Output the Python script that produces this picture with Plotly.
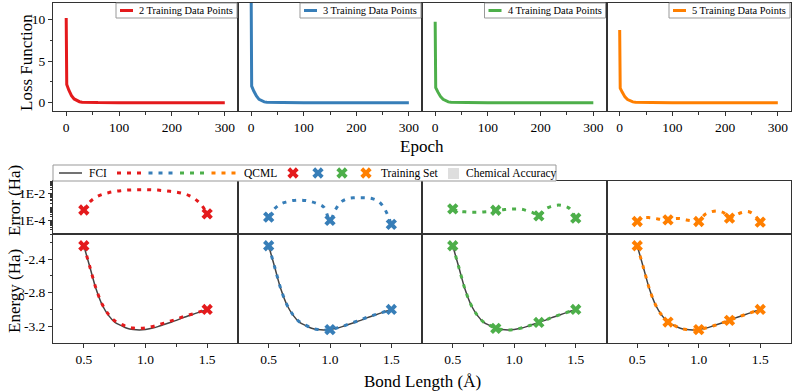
import numpy as np
import plotly.graph_objects as go

W, H = 793, 392
FONT = "Liberation Serif, Times New Roman, serif"

colors = ['#e41a1c', '#377eb8', '#4daf4a', '#ff7f00']
n_train = [2, 3, 4, 5]

# ---- loss curves (top row)
epochs = [0, 1, 5, 10, 15, 20, 25, 30, 40, 60, 100, 200, 300]
loss_2 = [10.2, 2.2, 1.5, 0.85, 0.45, 0.25, 0.12, 0.06, 0.02, 0.01, 0.0, 0.0, 0.0]
loss_3 = [13.5, 2.0, 1.4, 0.8, 0.4, 0.2, 0.1, 0.05, 0.02, 0.01, 0.0, 0.0, 0.0]
loss_4 = [9.75, 1.8, 1.3, 0.75, 0.4, 0.2, 0.1, 0.05, 0.02, 0.01, 0.0, 0.0, 0.0]
loss_5 = [8.75, 1.75, 1.25, 0.7, 0.38, 0.2, 0.1, 0.05, 0.02, 0.01, 0.0, 0.0, 0.0]
losses = [loss_2, loss_3, loss_4, loss_5]

# ---- potential energy curve (bottom rows)
bond = [0.50, 0.55, 0.60, 0.65, 0.70, 0.75, 0.80, 0.85, 0.90, 0.95, 1.00,
        1.05, 1.10, 1.15, 1.20, 1.25, 1.30, 1.35, 1.40, 1.45, 1.50]
fci_energy = [-2.24, -2.50, -2.76, -2.95, -3.07, -3.15, -3.19, -3.225, -3.24, -3.245, -3.24,
              -3.225, -3.205, -3.18, -3.155, -3.13, -3.10, -3.075, -3.05, -3.025, -3.00]

# log10 of |QCML - FCI| (Ha)
err_log_2 = [-3.21, -2.6, -2.25, -2.05, -1.92, -1.83, -1.77, -1.73, -1.71, -1.70, -1.70,
             -1.71, -1.73, -1.77, -1.82, -1.88, -1.97, -2.12, -2.38, -2.8, -3.5]
err_log_3 = [-3.74, -3.1, -2.75, -2.6, -2.5, -2.47, -2.5, -2.6, -2.75, -3.0, -3.98,
             -3.1, -2.55, -2.35, -2.3, -2.29, -2.3, -2.38, -2.6, -3.2, -4.28]
err_log_4 = [-3.13, -3.30, -3.35, -3.38, -3.38, -3.36, -3.32, -3.23, -3.2, -3.15, -3.13,
             -3.14, -3.25, -3.4, -3.65, -3.15, -2.95, -2.85, -2.9, -3.1, -3.82]
err_log_5 = [-4.07, -3.8, -3.78, -3.85, -3.92, -3.95, -3.85, -3.85, -3.95, -4.02, -4.07,
             -3.55, -3.35, -3.28, -3.4, -3.82, -3.6, -3.4, -3.33, -3.55, -4.12]
err_logs = [err_log_2, err_log_3, err_log_4, err_log_5]

train_x_2 = [0.5, 1.5]
train_x_3 = [0.5, 1.0, 1.5]
train_x_4 = [0.5, 0.85, 1.2, 1.5]
train_x_5 = [0.5, 0.75, 1.0, 1.25, 1.5]
train_xs = [train_x_2, train_x_3, train_x_4, train_x_5]

chem_acc = 1.6e-3

# ---- layout geometry (pixels)
cols = [53, 238, 422, 606.5, 791]
row_top = (3, 111)
row_err = (181, 234)
row_en = (234, 343)


def dx(c):
    return [cols[c] / W, cols[c + 1] / W]


def dy(r):
    return [1 - r[1] / H, 1 - r[0] / H]


axis_base = dict(showline=True, mirror=True, linecolor='#333', linewidth=1,
                 showgrid=False, zeroline=False, ticks='outside', ticklen=4,
                 tickwidth=1, tickcolor='#333',
                 tickfont=dict(family=FONT, size=13.5, color='black'))

fig = go.Figure()
layout = {}
bond_arr = np.array(bond)
fci_arr = np.array(fci_energy)

for c in range(4):
    color = colors[c]
    # top: loss
    n = c + 1
    layout[f'xaxis{n}'] = dict(axis_base, domain=dx(c), anchor=f'y{n}', range=[-25, 325],
                               tickvals=[0, 100, 200, 300],
                               minor=dict(tickvals=[50, 150, 250], ticks='outside', ticklen=2.5,
                                          tickcolor='#333'))
    ya = dict(axis_base, domain=dy(row_top), anchor=f'x{n}', range=[-1, 12], tickvals=[0, 5, 10])
    if c == 0:
        ya['minor'] = dict(tickvals=[2.5, 7.5], ticks='outside', ticklen=2.5, tickcolor='#333')
    else:
        ya.update(ticks='', showticklabels=False)
    layout[f'yaxis{n}'] = ya
    fig.add_trace(go.Scatter(x=epochs, y=losses[c], mode='lines', line=dict(color=color, width=3),
                             xaxis=f'x{n}', yaxis=f'y{n}', showlegend=False, hoverinfo='skip'))

    # middle: error
    n = c + 5
    layout[f'xaxis{n}'] = dict(axis_base, domain=dx(c), anchor=f'y{n}', range=[0.25, 1.75],
                               ticks='', showticklabels=False)
    ya = dict(axis_base, domain=dy(row_err), anchor=f'x{n}', type='log', range=[-5, -1.05],
              tickvals=[1e-2, 1e-4], ticktext=['1E-2', '1E-4'])
    if c == 0:
        ya['minor'] = dict(dtick='D1', ticks='outside', ticklen=2, tickcolor='#333')
    else:
        ya.update(ticks='', showticklabels=False)
    layout[f'yaxis{n}'] = ya
    err = 10 ** np.array(err_logs[c])
    fig.add_shape(type='rect', xref=f'x{n} domain', x0=0, x1=1, yref=f'y{n}',
                  y0=-5, y1=np.log10(chem_acc), fillcolor='#dedede', line_width=0, layer='below')
    fig.add_trace(go.Scatter(x=bond, y=err, mode='lines', line=dict(color=color, width=3, dash='4px,6px',
                             shape='spline'), xaxis=f'x{n}', yaxis=f'y{n}', showlegend=False,
                             hoverinfo='skip'))
    idx = [int(np.argmin(np.abs(bond_arr - t))) for t in train_xs[c]]
    fig.add_trace(go.Scatter(x=train_xs[c], y=err[idx], mode='markers',
                             marker=dict(symbol='x', size=10, color=color, line_width=0),
                             xaxis=f'x{n}', yaxis=f'y{n}', showlegend=False, hoverinfo='skip'))

    # bottom: energy
    n = c + 9
    layout[f'xaxis{n}'] = dict(axis_base, domain=dx(c), anchor=f'y{n}', range=[0.25, 1.75],
                               tickvals=[0.5, 1.0, 1.5], ticktext=['0.5', '1.0', '1.5'],
                               minor=dict(tickvals=[0.75, 1.25], ticks='outside', ticklen=2.5,
                                          tickcolor='#333'))
    ya = dict(axis_base, domain=dy(row_en), anchor=f'x{n}', range=[-3.4, -2.1],
              tickvals=[-2.4, -2.8, -3.2], ticktext=['-2.4', '-2.8', '-3.2'])
    if c == 0:
        ya['minor'] = dict(tickvals=[-2.2, -2.6, -3.0], ticks='outside', ticklen=2.5, tickcolor='#333')
    else:
        ya.update(ticks='', showticklabels=False)
    layout[f'yaxis{n}'] = ya
    fig.add_trace(go.Scatter(x=bond, y=fci_energy, mode='lines', line=dict(color='#444', width=1.5,
                             shape='spline'), xaxis=f'x{n}', yaxis=f'y{n}', showlegend=False,
                             hoverinfo='skip'))
    fig.add_trace(go.Scatter(x=bond, y=fci_arr + err, mode='lines',
                             line=dict(color=color, width=3, dash='4px,6px', shape='spline'),
                             xaxis=f'x{n}', yaxis=f'y{n}', showlegend=False, hoverinfo='skip'))
    fig.add_trace(go.Scatter(x=train_xs[c], y=fci_arr[idx], mode='markers',
                             marker=dict(symbol='x', size=10, color=color, line_width=0),
                             xaxis=f'x{n}', yaxis=f'y{n}', showlegend=False, hoverinfo='skip'))

# overlay axis in pixel units for the hand-drawn legends
layout['xaxis13'] = dict(domain=[0, 1], range=[0, W], visible=False, anchor='y13', fixedrange=True)
layout['yaxis13'] = dict(domain=[0, 1], range=[H, 0], visible=False, anchor='x13', fixedrange=True)


def txt(x, y, s, size=11.5):
    fig.add_annotation(x=x, y=y, xref='x13', yref='y13', text=s, showarrow=False,
                       xanchor='left', yanchor='middle',
                       font=dict(family=FONT, size=size, color='black'))


def seg(x0, x1, y, color, width, dash='solid'):
    fig.add_shape(type='line', xref='x13', yref='y13', x0=x0, x1=x1, y0=y, y1=y,
                  line=dict(color=color, width=width, dash=dash))


# top legends
for c in range(4):
    right = cols[c + 1] - 1
    left = right - 121
    fig.add_shape(type='rect', xref='x13', yref='y13', x0=left, x1=right, y0=3, y1=18,
                  fillcolor='white', line=dict(color='#999', width=1), layer='below')
    seg(left + 4, left + 17, 10.5, colors[c], 3)
    txt(left + 21, 10.8, f'{n_train[c]} Training Data Points', 10.4)

# bottom legend
fig.add_shape(type='rect', xref='x13', yref='y13', x0=53, x1=556, y0=165, y1=181,
              fillcolor='white', line=dict(color='#999', width=1), layer='below')
seg(59, 82, 173, '#444', 1.5)
txt(87, 173.3, 'FCI', 11.5)
for i, col in enumerate(colors):
    seg(117 + 31.5 * i, 145 + 31.5 * i, 173, col, 3, '4px,6px')
txt(242, 173.3, 'QCML', 11.5)
fig.add_trace(go.Scatter(x=[293, 318, 342, 366], y=[173] * 4, mode='markers',
                         marker=dict(symbol='x', size=10, color=colors, line_width=0),
                         xaxis='x13', yaxis='y13', showlegend=False, hoverinfo='skip'))
txt(379, 173.3, 'Training Set', 11.5)
fig.add_shape(type='rect', xref='x13', yref='y13', x0=448, x1=459, y0=168, y1=179,
              fillcolor='#dedede', line_width=0)
txt(464, 173.3, 'Chemical Accuracy', 11.5)


# axis titles
def title(x, y, s, angle=0):
    fig.add_annotation(x=x, y=y, xref='x13', yref='y13', text=s, showarrow=False,
                       xanchor='center', yanchor='middle', textangle=angle,
                       font=dict(family=FONT, size=17, color='black'))


title(26, 63, 'Loss Function', -90)
title(422, 146, 'Epoch')
title(14, 201, 'Error (Ha)', -90)
title(14, 291, 'Energy (Ha)', -90)
title(422, 381, 'Bond Length (Å)')

fig.update_layout(
    **layout,
    width=W, height=H,
    margin=dict(l=0, r=0, t=0, b=0),
    paper_bgcolor='white', plot_bgcolor='rgba(0,0,0,0)',
    showlegend=False,
    font=dict(family=FONT),
)

fig.write_html("out.html", config={'displayModeBar': False},
               post_script="document.body.style.margin='0px';")
